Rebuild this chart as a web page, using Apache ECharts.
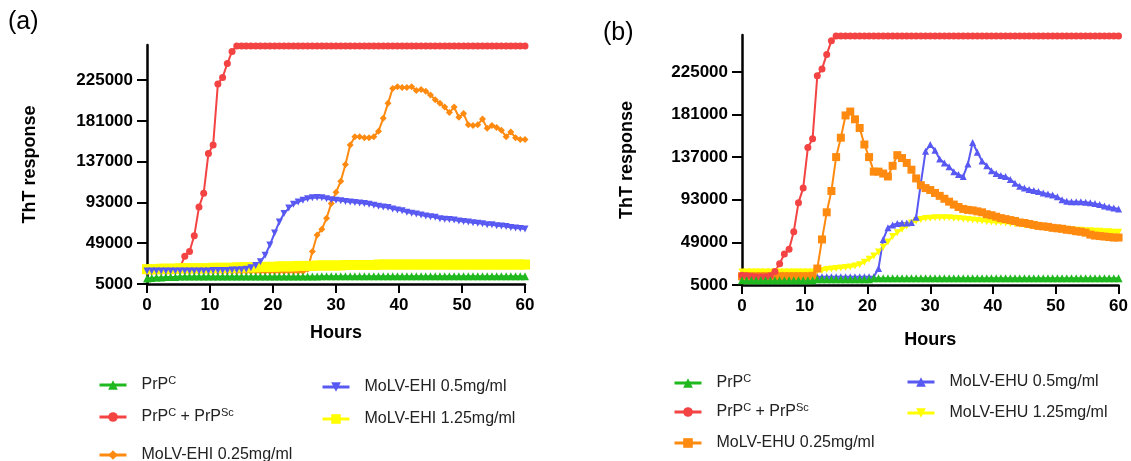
<!DOCTYPE html>
<html>
<head>
<meta charset="utf-8">
<script src="https://cdn.jsdelivr.net/npm/echarts@6/dist/echarts.min.js"></script>
<style>
html, body { margin: 0; padding: 0; background: #fff; }
#chart { width: 1131px; height: 461px; }
</style>
</head>
<body>
<div id="chart"></div>
<script>
// time points (hours)
var hours = [0, 0.75, 1.5, 2.25, 3, 3.75, 4.5, 5.25, 6, 6.75,
  7.5, 8.25, 9, 9.75, 10.5, 11.25, 12, 12.75, 13.5, 14.25,
  15, 15.75, 16.5, 17.25, 18, 18.75, 19.5, 20.25, 21, 21.75,
  22.5, 23.25, 24, 24.75, 25.5, 26.25, 27, 27.75, 28.5, 29.25,
  30, 30.75, 31.5, 32.25, 33, 33.75, 34.5, 35.25, 36, 36.75,
  37.5, 38.25, 39, 39.75, 40.5, 41.25, 42, 42.75, 43.5, 44.25,
  45, 45.75, 46.5, 47.25, 48, 48.75, 49.5, 50.25, 51, 51.75,
  52.5, 53.25, 54, 54.75, 55.5, 56.25, 57, 57.75, 58.5, 59.25,
  60];
var yTicks = [5000, 49000, 93000, 137000, 181000, 225000];

// values below are in thousands of ThT units
// panel (a)
var greenA = [11, 11.5, 12, 12, 12.5, 12.5, 12.5, 13, 13, 13,
  13, 13, 13, 13, 13, 13, 13, 13, 13, 13,
  13, 13, 13, 13, 13, 13, 13, 13, 13, 13,
  13, 13, 13, 13, 13, 13, 13, 13.5, 13.5, 13.5,
  13.5, 13.5, 13.5, 13.5, 13.5, 13.5, 13.5, 13.5, 13.5, 13.5,
  13.5, 13.5, 13.5, 13.5, 13.5, 13.5, 13.5, 13.5, 13.5, 13.5,
  13.5, 13.5, 13.5, 13.5, 13.5, 13.5, 13.5, 13.5, 13.5, 13.5,
  13.5, 13.5, 13.5, 13.5, 13.5, 13.5, 13.5, 13.5, 13.5, 13.5,
  13.5];
var redA = [19, 19, 19, 19, 19, 19, 19.5, 23, 35, 40,
  57, 88, 103, 146, 155, 221, 228, 243, 256, 262,
  262, 262, 262, 262, 262, 262, 262, 262, 262, 262,
  262, 262, 262, 262, 262, 262, 262, 262, 262, 262,
  262, 262, 262, 262, 262, 262, 262, 262, 262, 262,
  262, 262, 262, 262, 262, 262, 262, 262, 262, 262,
  262, 262, 262, 262, 262, 262, 262, 262, 262, 262,
  262, 262, 262, 262, 262, 262, 262, 262, 262, 262,
  262];
var orangeA = [18.5, 18.5, 18.5, 18.5, 18.5, 18.5, 18.5, 18.5, 18.5, 18.5,
  18.5, 18.5, 18.5, 18.5, 18.5, 18.5, 18.5, 18.5, 18.5, 18.5,
  18.5, 18.5, 18.5, 18.5, 18.5, 18.5, 18.5, 18.5, 18.5, 18.5,
  18.5, 18.5, 18.5, 18.5, 21, 40, 58, 64, 76, 92,
  104, 116, 134, 155, 164, 164, 163, 163, 164, 170,
  184, 200, 216, 218, 217, 217, 218, 214, 215, 213,
  209, 204, 200, 196, 190, 196, 185, 189, 177, 176,
  177, 183, 173, 176, 174, 171, 164, 169, 163, 161,
  161];
var blueA = [19, 19, 19, 19, 19, 19, 19, 19, 19, 19,
  19, 19, 19, 19, 19.5, 19.5, 19.5, 19.5, 20, 20,
  20.5, 21, 22.5, 25, 29, 36, 47, 60, 72, 81,
  87, 91, 93.5, 95.5, 97, 98, 98.5, 98, 97, 96,
  95.5, 95, 94, 93.5, 93, 92.5, 92, 91, 90, 89,
  88, 87.5, 86, 85, 84, 82.5, 81.5, 80.5, 79.5, 78.5,
  77.5, 77, 75.5, 75, 74.5, 74, 73, 72.5, 72, 71,
  70.5, 70, 69, 69, 68, 67.5, 67, 66, 65.5, 65,
  64.5];
var yellowA = [21, 21, 21, 21.5, 21.5, 21.5, 21.5, 22, 22, 22,
  22, 22, 22, 22, 22.5, 22.5, 22.5, 22.5, 22.5, 23,
  23, 23, 23, 23, 23.5, 23.5, 23.5, 23.5, 24, 24,
  24, 24, 24.5, 24.5, 24.5, 24.5, 25, 25, 25, 25,
  25, 25, 25.5, 25.5, 25.5, 25.5, 25.5, 25.5, 25.5, 26,
  26, 26, 26, 26, 26, 26, 26, 26, 26, 26,
  26, 26, 26, 26, 26, 26, 26, 26, 26, 26,
  26, 26, 26, 26, 26, 26, 26, 26, 26, 26,
  26];

// panel (b)
var greenB = [10, 10, 10, 10, 10, 10, 10, 10, 10, 10,
  10, 10, 10, 10, 10, 10, 11, 11, 11, 11,
  11, 11, 11, 11, 11, 11, 11, 11, 12, 12,
  12, 12, 12, 12, 12, 12, 12, 12, 12, 12,
  12, 12, 12, 12, 12, 12, 12, 12, 12, 12,
  12, 12, 12, 12, 12, 12, 12, 12, 12, 12,
  12, 12, 12, 12, 12, 12, 12, 12, 12, 12,
  12, 12, 12, 12, 12, 12, 12, 12, 12, 12,
  12];
var redB = [15, 14.5, 14, 13.5, 13.5, 13.5, 14.5, 19, 27, 37,
  42, 60, 90, 105, 147, 156, 221, 228, 243, 257,
  262, 262, 262, 262, 262, 262, 262, 262, 262, 262,
  262, 262, 262, 262, 262, 262, 262, 262, 262, 262,
  262, 262, 262, 262, 262, 262, 262, 262, 262, 262,
  262, 262, 262, 262, 262, 262, 262, 262, 262, 262,
  262, 262, 262, 262, 262, 262, 262, 262, 262, 262,
  262, 262, 262, 262, 262, 262, 262, 262, 262, 262,
  262];
var orangeB = [14, 14, 14, 14, 14, 14, 14, 14, 14, 14,
  14, 14, 14, 14, 14, 14.5, 22, 52, 80, 102,
  137, 157, 180, 184, 176, 167, 150, 137, 122, 122,
  120, 117, 128, 139, 136, 131, 124, 115, 108, 105,
  103, 100, 97, 94, 91, 88, 85.5, 83.5, 82.5, 82,
  81, 80, 78, 77, 75.5, 74, 73, 72, 71, 69.5,
  69, 68, 67, 66, 65.5, 65, 64, 63.5, 63, 62,
  61.5, 60.5, 60, 59, 57, 56, 55.5, 55, 54.5, 54,
  54];
var blueB = [13.5, 13.5, 13.5, 13.5, 13.5, 13.5, 13.5, 13.5, 13.5, 13.5,
  13.5, 13.5, 13.5, 13.5, 13.5, 13.5, 13.5, 13.5, 13.5, 13.5,
  13.5, 13.5, 13.5, 13.5, 13.5, 13.5, 13.5, 13.5, 13.5, 22,
  52, 64, 67, 68.5, 69, 69, 69.5, 75, 110, 143,
  150, 144, 135, 131, 127, 122, 119, 117, 130, 152,
  142, 133, 128, 123, 120, 118, 117, 114, 110, 107,
  105, 103.5, 102.5, 101.5, 100, 99, 98, 96, 93, 91.5,
  91, 91, 91, 90.5, 90, 89, 88, 86.5, 85.5, 84.5,
  83.5];
var yellowB = [18.5, 18.5, 18.5, 18.5, 18.5, 18.5, 18.5, 18.5, 18.5, 18.5,
  18.5, 18.5, 18.5, 18.5, 18.5, 18.5, 19.5, 20, 21, 21.5,
  22, 22.5, 23, 23.5, 24.5, 26, 28.5, 31.5, 35, 39,
  44, 49.5, 55, 59, 62.5, 66, 69, 71, 72.5, 73.5,
  74, 74.5, 74.5, 74.5, 74.5, 74, 73.5, 73, 72.5, 72,
  71.5, 71, 70.5, 70, 69.5, 69.5, 69, 68.5, 68, 67.5,
  67, 66.5, 66, 65.5, 65, 64.5, 64, 63.5, 63, 62.5,
  62, 61.5, 61.5, 61, 61, 60.5, 60.5, 60, 60, 59.5,
  59.5];

var namesA = ["PrPC", "PrPC + PrPSc", "MoLV-EHI 0.25mg/ml", "MoLV-EHI 0.5mg/ml", "MoLV-EHI 1.25mg/ml"];
var namesB = ["PrPC", "PrPC + PrPSc", "MoLV-EHU 0.25mg/ml", "MoLV-EHU 0.5mg/ml", "MoLV-EHU 1.25mg/ml"];

var FONT = "'Liberation Sans', Arial, Helvetica, sans-serif";
var GREEN = "#1fb81f", RED = "#f34343", ORANGE = "#ff8a10", BLUE = "#5858f2", YELLOW = "#ffff00";

var chart = echarts.init(document.getElementById("chart"), null, { renderer: "canvas" });

function line(name, vals, idx, color, symbol, size, rotate) {
	return {
		type: "line",
		name: name,
		xAxisIndex: idx,
		yAxisIndex: idx,
		data: hours.map(function (h, i) { return [h, vals[i] * 1000]; }),
		symbol: symbol,
		symbolSize: size,
		symbolRotate: rotate || 0,
		showAllSymbol: true,
		lineStyle: { color: color, width: 2 },
		itemStyle: { color: color },
		emphasis: { disabled: true },
		animation: false
	};
}

function xAxis(idx, gap) {
	return {
		type: "value", gridIndex: idx, min: 0, max: 60, interval: 10,
		name: "Hours", nameLocation: "middle", nameGap: gap,
		nameTextStyle: { fontSize: 18, fontWeight: "bold", color: "#000", fontFamily: FONT },
		axisLine: { show: true, onZero: false, lineStyle: { color: "#000", width: 2.5 } },
		axisTick: { show: true, length: 9, lineStyle: { color: "#000", width: 2 } },
		axisLabel: { fontSize: 17, fontWeight: "bold", color: "#000", margin: 13, fontFamily: FONT },
		splitLine: { show: false }
	};
}

function yAxis(idx, gap) {
	return {
		type: "value", gridIndex: idx, min: 5000, max: 263000,
		name: "ThT response", nameLocation: "middle", nameGap: gap,
		nameTextStyle: { fontSize: 18, fontWeight: "bold", color: "#000", fontFamily: FONT },
		axisLine: { show: true, onZero: false, lineStyle: { color: "#000", width: 2.5 } },
		axisTick: { show: true, length: 10, customValues: yTicks, lineStyle: { color: "#000", width: 2 } },
		axisLabel: {
			customValues: yTicks, fontSize: 17, fontWeight: "bold", color: "#000", margin: 14, fontFamily: FONT,
			formatter: function (v) { return String(v); }
		},
		splitLine: { show: false }
	};
}

//legend, one block per item so rows can sit where they do in the figure
function legendItem(name, left, top) {
	return {
		data: [name], left: left, top: top, orient: "vertical",
		itemWidth: 27, itemHeight: 12, padding: 0,
		selectedMode: false,
		lineStyle: { width: 3 },
		formatter: function (n) {
			return n.replace("PrPC", "PrP{sup|C}").replace("PrPSc", "PrP{sup|Sc}");
		},
		textStyle: {
			fontSize: 16, color: "#222", fontFamily: FONT, lineHeight: 20, padding: [0, 0, 0, 10],
			rich: { sup: { fontSize: 11, fontFamily: FONT, color: "#222", lineHeight: 12, verticalAlign: "top" } }
		}
	};
}

var option = {
	backgroundColor: "#fff",
	animation: false,
	textStyle: { fontFamily: FONT },
	grid: [
		{ left: 147, top: 45, width: 378, height: 239 },
		{ left: 742, top: 35, width: 378, height: 250 }
	],
	xAxis: [xAxis(0, 40), xAxis(1, 46)],
	yAxis: [yAxis(0, 108), yAxis(1, 106)],
	legend: [
		legendItem(namesA[0], 98, 375),
		legendItem(namesA[1], 98, 407),
		legendItem(namesA[2], 98, 445),
		legendItem(namesA[3], 321, 377),
		legendItem(namesA[4], 321, 409),
		legendItem(namesB[2], 673, 433),
		legendItem(namesB[3], 906, 372),
		legendItem(namesB[4], 906, 403),
		legendItem(namesB[0], 673, 373),
		legendItem(namesB[1], 673, 402)
	],
	graphic: [
		{ type: "text", left: 8, top: 10, style: { text: "(a)", fontSize: 25, fill: "#000", fontFamily: FONT } },
		{ type: "text", left: 603, top: 21, style: { text: "(b)", fontSize: 25, fill: "#000", fontFamily: FONT } }
	],
	series: [
		line(namesA[1], redA, 0, RED, "circle", 7),
		line(namesA[2], orangeA, 0, ORANGE, "diamond", 7),
		line(namesA[4], yellowA, 0, YELLOW, "rect", 10),
		line(namesA[3], blueA, 0, BLUE, "triangle", 7, 180),
		line(namesA[0], greenA, 0, GREEN, "triangle", 8),
		line(namesB[4], yellowB, 1, YELLOW, "triangle", 7, 180),
		line(namesB[3], blueB, 1, BLUE, "triangle", 7),
		line(namesB[2], orangeB, 1, ORANGE, "rect", 8),
		line(namesB[1], redB, 1, RED, "circle", 7),
		line(namesB[0], greenB, 1, GREEN, "triangle", 8)
	]
};

chart.setOption(option);
</script>
</body>
</html>
